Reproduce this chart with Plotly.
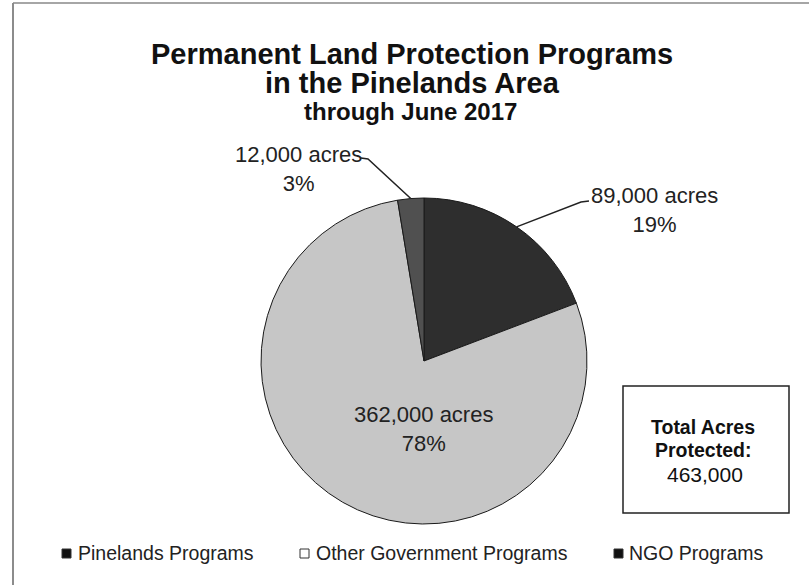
import math
import plotly.graph_objects as go

# ---- data ----
programs = ["Pinelands Programs", "Other Government Programs", "NGO Programs"]
acres = [89000, 362000, 12000]
slice_colors = ["#2e2e2e", "#c6c6c6", "#505050"]
legend_fill = ["#111111", "#ffffff", "#111111"]

title_lines = ["Permanent Land Protection Programs", "in the Pinelands Area"]
subtitle = "through June 2017"
total_label = ["Total Acres", "Protected:"]

W, H = 809, 585
FONT = "Liberation Sans, Arial, Helvetica, sans-serif"


def px(x):
    return x / W


def py(y):
    return 1 - y / H


# pie placement (pixels)
CX, CY, R = 424, 361, 163

total = sum(acres)

fig = go.Figure()
fig.add_trace(go.Pie(
    labels=programs,
    values=acres,
    sort=False,
    direction="clockwise",
    rotation=0,
    textinfo="none",
    hoverinfo="label+value+percent",
    marker=dict(colors=slice_colors, line=dict(color="#1a1a1a", width=1)),
    domain=dict(x=[px(CX - R), px(CX + R)], y=[py(CY + R), py(CY - R)]),
    showlegend=False,
))


def edge_point(i, rfrac=1.0):
    before = sum(acres[:i])
    mid = (before + acres[i] / 2) / total
    ang = 2 * math.pi * mid
    return CX + R * rfrac * math.sin(ang), CY - R * rfrac * math.cos(ang)


def label_text(i):
    pct = round(100 * acres[i] / total)
    return f"{acres[i]:,} acres<br>{pct}%"


def ann(text, x, y, size, bold=False, xanchor="center", color="#111"):
    return dict(text=("<b>%s</b>" % text) if bold else text, x=px(x), y=py(y),
                xref="paper", yref="paper", xanchor=xanchor, yanchor="middle",
                showarrow=False, align="center",
                font=dict(size=size, family=FONT, color=color))


annotations = []
shapes = []

# title
annotations.append(ann(title_lines[0], 412, 54, 29, bold=True))
annotations.append(ann(title_lines[1], 412, 83, 29, bold=True))
annotations.append(ann(subtitle, 410, 111, 24, bold=True))

# slice labels
LS = 22
annotations.append(ann(label_text(0), 654, 210, LS, color="#222"))
ex, ey = edge_point(0)
shapes.append(dict(type="path", xref="paper", yref="paper",
                   path=f"M {px(ex)},{py(ey)} L {px(581)},{py(202)} L {px(589)},{py(201)}",
                   line=dict(color="#222", width=1.5)))
annotations.append(ann(label_text(2), 298, 169, LS, color="#222"))
ex, ey = edge_point(2)
shapes.append(dict(type="path", xref="paper", yref="paper",
                   path=f"M {px(361)},{py(158)} L {px(368)},{py(159)} L {px(ex)},{py(ey)}",
                   line=dict(color="#222", width=1.5)))
annotations.append(ann(label_text(1), 423, 429, LS, color="#222"))

# total box
shapes.append(dict(type="rect", xref="paper", yref="paper",
                   x0=px(623), x1=px(789), y0=py(513), y1=py(386),
                   line=dict(color="#222", width=1.5), fillcolor="white"))
annotations.append(ann(total_label[0], 703, 427, 19.5, bold=True))
annotations.append(ann(total_label[1], 703, 450, 19.5, bold=True))
annotations.append(ann(f"{total:,}", 705, 474, 21))

# legend (squares + labels)
sq_x = [62, 300, 614]
txt_x = [76, 314, 627]
for sx, tx, fillc, name in zip(sq_x, txt_x, legend_fill, programs):
    shapes.append(dict(type="rect", xref="paper", yref="paper",
                       x0=px(sx), x1=px(sx + 9), y0=py(558), y1=py(549),
                       line=dict(color="#333", width=1), fillcolor=fillc))
    annotations.append(ann(name, tx, 553, 19.5, xanchor="left", color="#222"))

# frame lines
shapes.append(dict(type="line", xref="paper", yref="paper", x0=px(13), x1=px(13), y0=0, y1=py(3),
                   line=dict(color="#666", width=1.5)))
shapes.append(dict(type="line", xref="paper", yref="paper", x0=px(13), x1=1, y0=py(3), y1=py(3),
                   line=dict(color="#888", width=1.5)))

fig.update_layout(
    width=W, height=H,
    margin=dict(l=0, r=0, t=0, b=0),
    paper_bgcolor="white", plot_bgcolor="white",
    annotations=annotations, shapes=shapes,
    showlegend=False,
)

fig.write_html("out.html", config={"displayModeBar": False},
               post_script="document.body.style.margin='0px';")
